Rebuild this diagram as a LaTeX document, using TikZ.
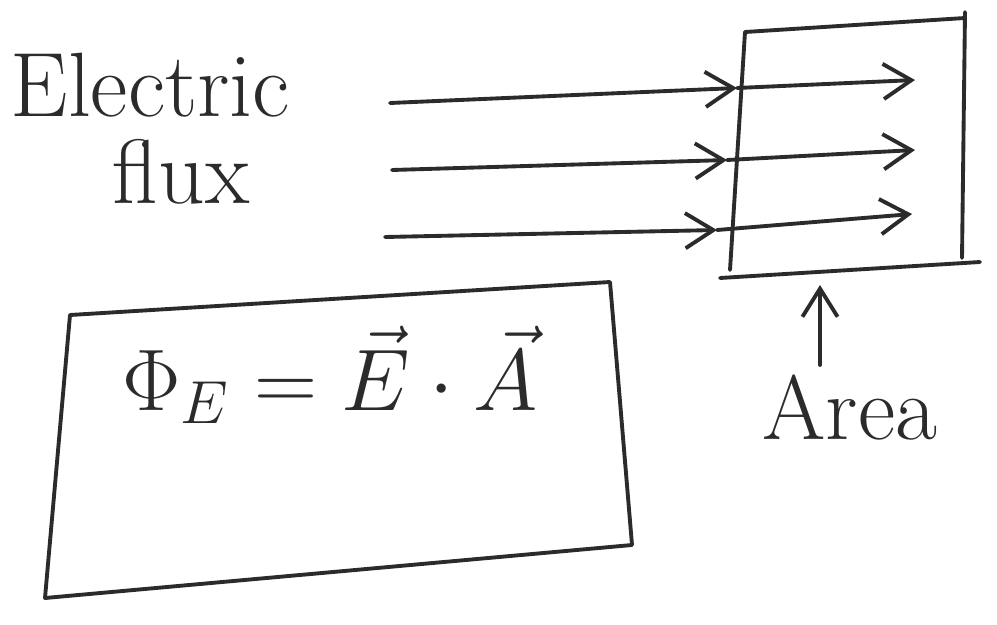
\documentclass[tikz,border=0pt]{standalone}
\usepackage{amsmath}
\usepackage{fontspec}
\usetikzlibrary{arrows.meta}
\definecolor{Ink}{HTML}{2B2B2B}
\tikzset{
    ink/.style={draw=Ink, line width=1.1pt, line cap=round, line join=round},
    fluxarrow/.style={ink, -{Straight Barb[length=8pt, width=10pt]}},
    handtext/.style={text=Ink, font=\fontsize{26}{30}\selectfont, inner sep=0pt},
}

\begin{document}
\begin{tikzpicture}[x=0.01cm, y=-0.01cm]
    \useasboundingbox (0,0) rectangle (997,624);

    % Titel
    \node[handtext, anchor=west] (title1) at (10,85) {Electric};
    \node[handtext, anchor=west] (title2) at (112,172) {flux};

    % Flaeche
    \coordinate (plnw) at (745,32);
    \coordinate (plne) at (965,18);
    \coordinate (plse) at (962,258);
    \coordinate (plsw) at (730,270);
    \draw[ink] (plnw) -- (plsw);
    \draw[ink] (plnw) -- (plne);
    \draw[ink] (965,12) -- (plse);
    \draw[ink] (720,278) -- (980,262);

    % Feldlinien vor der Flaeche
    \coordinate (s1) at (390,103);
    \coordinate (s2) at (392,170);
    \coordinate (s3) at (385,237);
    \coordinate (h1) at (737,88);
    \coordinate (h2) at (727,160);
    \coordinate (h3) at (717,230);
    \draw[fluxarrow] (s1) -- (h1);
    \draw[fluxarrow] (s2) -- (h2);
    \draw[fluxarrow] (s3) -- (h3);

    % Feldlinien hinter der Flaeche
    \coordinate (t1) at (915,80);
    \coordinate (t2) at (915,150);
    \coordinate (t3) at (912,214);
    \draw[fluxarrow] (h1) -- (t1);
    \draw[fluxarrow] (h2) -- (t2);
    \draw[fluxarrow] (h3) -- (t3);

    % Beschriftung Flaeche
    \node[handtext] (area) at (850,408) {Area};
    \coordinate (areatip) at (820,285);
    \coordinate (areafoot) at (820,365);
    \draw[ink, -{Straight Barb[length=8pt, width=10pt]}] (areafoot) -- (areatip);

    % Formelkasten
    \coordinate (bxnw) at (70,315);
    \coordinate (bxne) at (610,282);
    \coordinate (bxse) at (632,545);
    \coordinate (bxsw) at (45,598);
    \draw[ink] (bxnw) -- (bxne) -- (bxse) -- (bxsw) -- cycle;
    \node[handtext] (eqn) at (330,375) {$\Phi_E = \vec{E}\cdot\vec{A}$};
\end{tikzpicture}
\end{document}
